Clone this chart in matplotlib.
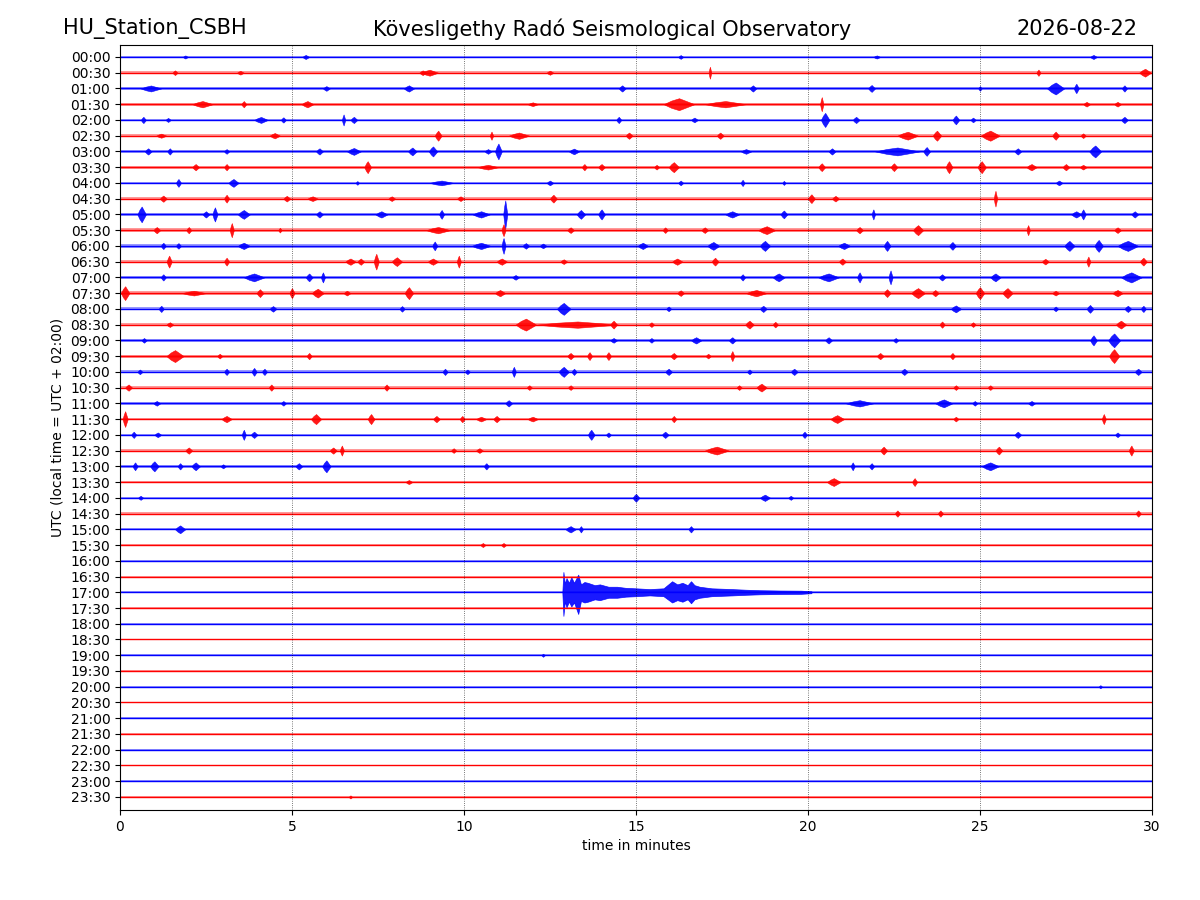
import matplotlib.pyplot as plt
import numpy as np

# rows of the helicorder: one trace per half hour
row_labels = ["%02d:%02d" % (h, m) for h in range(24) for m in (0, 30)]

# background noise half-width of each trace (row spacing = 1)
noise_level = [
    0.07, 0.09, 0.10, 0.09, 0.09, 0.10, 0.11, 0.10,
    0.08, 0.10, 0.11, 0.11, 0.12, 0.11, 0.11, 0.11,
    0.09, 0.09, 0.08, 0.09, 0.09, 0.08, 0.08, 0.09,
    0.08, 0.08, 0.09, 0.07, 0.07, 0.07, 0.07, 0.06,
    0.055, 0.055, 0.055, 0.055, 0.055, 0.055, 0.055, 0.055,
    0.055, 0.055, 0.055, 0.055, 0.055, 0.055, 0.055, 0.055,
]

# small local events: (row, minute, half amplitude, duration in minutes)
events = [
    (0, 5.4, 0.13, 0.2), (0, 28.3, 0.13, 0.2), (0, 1.9, 0.1, 0.15), (0, 16.3, 0.12, 0.15), (0, 22.0, 0.1, 0.2),
    (1, 1.6, 0.15, 0.15), (1, 9.0, 0.19, 0.5), (1, 8.8, 0.15, 0.2), (1, 17.15, 0.38, 0.08), (1, 26.7, 0.2, 0.12),
    (1, 29.8, 0.25, 0.35), (1, 12.5, 0.13, 0.2), (1, 3.5, 0.12, 0.2),
    (2, 0.9, 0.19, 0.6), (2, 8.4, 0.2, 0.3), (2, 14.6, 0.2, 0.2), (2, 18.4, 0.2, 0.2), (2, 21.85, 0.22, 0.2),
    (2, 25.0, 0.15, 0.1), (2, 27.2, 0.38, 0.5), (2, 27.8, 0.3, 0.15), (2, 29.2, 0.2, 0.15), (2, 6.0, 0.15, 0.2),
    (3, 2.4, 0.2, 0.6), (3, 3.6, 0.2, 0.15), (3, 5.45, 0.2, 0.35), (3, 16.25, 0.38, 0.9), (3, 17.6, 0.2, 1.2),
    (3, 20.4, 0.45, 0.1), (3, 28.1, 0.15, 0.2), (3, 29.0, 0.15, 0.2), (3, 12.0, 0.12, 0.3),
    (4, 0.68, 0.2, 0.15), (4, 4.1, 0.19, 0.4), (4, 4.75, 0.17, 0.15), (4, 6.5, 0.35, 0.1), (4, 6.8, 0.2, 0.2),
    (4, 14.5, 0.2, 0.15), (4, 20.5, 0.45, 0.25), (4, 21.4, 0.2, 0.2), (4, 24.3, 0.28, 0.2), (4, 24.8, 0.15, 0.15),
    (4, 29.2, 0.2, 0.2), (4, 1.4, 0.13, 0.15), (4, 16.7, 0.15, 0.2),
    (5, 9.25, 0.32, 0.2), (5, 10.8, 0.26, 0.1), (5, 11.6, 0.2, 0.6), (5, 14.8, 0.2, 0.2), (5, 4.5, 0.17, 0.3),
    (5, 1.2, 0.13, 0.3), (5, 17.45, 0.2, 0.2), (5, 22.9, 0.25, 0.6), (5, 23.75, 0.32, 0.25), (5, 25.3, 0.32, 0.55),
    (5, 27.2, 0.26, 0.2), (5, 28.0, 0.15, 0.15),
    (6, 0.82, 0.2, 0.2), (6, 1.45, 0.2, 0.15), (6, 3.1, 0.15, 0.15), (6, 5.8, 0.2, 0.2), (6, 6.8, 0.22, 0.4),
    (6, 8.5, 0.25, 0.25), (6, 9.1, 0.32, 0.25), (6, 10.7, 0.15, 0.2), (6, 11.0, 0.5, 0.2), (6, 13.2, 0.18, 0.3),
    (6, 20.7, 0.2, 0.2), (6, 22.6, 0.25, 1.3), (6, 23.45, 0.28, 0.2), (6, 26.1, 0.2, 0.2), (6, 28.35, 0.38, 0.35),
    (6, 18.2, 0.15, 0.3),
    (7, 2.2, 0.2, 0.2), (7, 3.1, 0.2, 0.15), (7, 7.2, 0.38, 0.2), (7, 10.7, 0.15, 0.6), (7, 13.5, 0.2, 0.15),
    (7, 14.0, 0.2, 0.2), (7, 16.1, 0.32, 0.3), (7, 15.6, 0.15, 0.15), (7, 20.4, 0.25, 0.2), (7, 22.5, 0.25, 0.2),
    (7, 24.1, 0.38, 0.2), (7, 25.05, 0.38, 0.25), (7, 26.5, 0.2, 0.3), (7, 27.5, 0.2, 0.2), (7, 28.0, 0.15, 0.2),
    (8, 1.7, 0.25, 0.15), (8, 3.3, 0.25, 0.3), (8, 9.35, 0.15, 0.7), (8, 6.9, 0.12, 0.1), (8, 12.5, 0.15, 0.2),
    (8, 16.3, 0.15, 0.15), (8, 18.1, 0.2, 0.12), (8, 19.3, 0.13, 0.1), (8, 27.3, 0.15, 0.2),
    (9, 1.26, 0.2, 0.2), (9, 3.1, 0.25, 0.15), (9, 4.85, 0.18, 0.2), (9, 5.6, 0.15, 0.3), (9, 12.6, 0.25, 0.2),
    (9, 20.1, 0.28, 0.2), (9, 20.8, 0.18, 0.2), (9, 25.45, 0.5, 0.1), (9, 9.9, 0.15, 0.2), (9, 7.9, 0.15, 0.2),
    (10, 0.63, 0.5, 0.25), (10, 2.76, 0.45, 0.15), (10, 2.5, 0.2, 0.2), (10, 3.6, 0.28, 0.35), (10, 5.8, 0.2, 0.2),
    (10, 7.6, 0.2, 0.35), (10, 9.35, 0.28, 0.15), (10, 10.5, 0.2, 0.5), (10, 11.2, 0.89, 0.12), (10, 13.4, 0.28, 0.25),
    (10, 14.0, 0.32, 0.2), (10, 17.8, 0.2, 0.4), (10, 19.3, 0.25, 0.2), (10, 21.9, 0.32, 0.1), (10, 27.8, 0.2, 0.3),
    (10, 28.0, 0.32, 0.15), (10, 29.5, 0.2, 0.2),
    (11, 1.07, 0.2, 0.2), (11, 2.0, 0.2, 0.15), (11, 3.25, 0.45, 0.12), (11, 4.65, 0.15, 0.1), (11, 9.25, 0.2, 0.7),
    (11, 11.15, 0.38, 0.12), (11, 13.1, 0.18, 0.2), (11, 15.85, 0.18, 0.15), (11, 17.0, 0.18, 0.2), (11, 18.8, 0.25, 0.5),
    (11, 23.2, 0.32, 0.3), (11, 26.4, 0.32, 0.1), (11, 29.0, 0.18, 0.2), (11, 21.5, 0.2, 0.2),
    (12, 1.26, 0.2, 0.15), (12, 1.7, 0.18, 0.15), (12, 3.6, 0.2, 0.35), (12, 9.15, 0.28, 0.15), (12, 10.5, 0.2, 0.55),
    (12, 11.15, 0.5, 0.12), (12, 11.8, 0.18, 0.2), (12, 12.3, 0.15, 0.2), (12, 15.2, 0.2, 0.3), (12, 17.25, 0.25, 0.35),
    (12, 18.75, 0.32, 0.3), (12, 21.05, 0.2, 0.35), (12, 22.3, 0.32, 0.2), (12, 24.2, 0.25, 0.2), (12, 27.6, 0.32, 0.3),
    (12, 28.45, 0.38, 0.25), (12, 29.3, 0.32, 0.6),
    (13, 1.43, 0.38, 0.15), (13, 3.1, 0.25, 0.15), (13, 6.7, 0.2, 0.3), (13, 7.45, 0.5, 0.15), (13, 7.0, 0.2, 0.2),
    (13, 8.05, 0.28, 0.3), (13, 9.1, 0.2, 0.3), (13, 9.85, 0.38, 0.12), (13, 11.1, 0.2, 0.3), (13, 12.9, 0.15, 0.2),
    (13, 16.2, 0.2, 0.3), (13, 17.3, 0.25, 0.2), (13, 21.0, 0.2, 0.2), (13, 26.9, 0.18, 0.2), (13, 28.15, 0.32, 0.12),
    (13, 29.75, 0.25, 0.2),
    (14, 1.26, 0.2, 0.15), (14, 3.9, 0.25, 0.6), (14, 5.5, 0.25, 0.2), (14, 5.9, 0.32, 0.12), (14, 11.5, 0.15, 0.2),
    (14, 18.1, 0.2, 0.15), (14, 19.15, 0.25, 0.35), (14, 20.6, 0.25, 0.6), (14, 21.5, 0.32, 0.15), (14, 22.4, 0.44, 0.12),
    (14, 23.9, 0.2, 0.2), (14, 25.45, 0.25, 0.3), (14, 29.4, 0.32, 0.6),
    (15, 0.15, 0.44, 0.25), (15, 2.15, 0.15, 0.7), (15, 4.07, 0.25, 0.2), (15, 5.0, 0.32, 0.15), (15, 5.75, 0.28, 0.35),
    (15, 6.6, 0.15, 0.2), (15, 8.4, 0.38, 0.25), (15, 11.05, 0.2, 0.3), (15, 16.3, 0.18, 0.2), (15, 18.5, 0.2, 0.6),
    (15, 22.3, 0.25, 0.2), (15, 23.2, 0.32, 0.4), (15, 23.7, 0.2, 0.2), (15, 25.0, 0.38, 0.25), (15, 25.8, 0.32, 0.3),
    (15, 29.0, 0.2, 0.3), (15, 27.2, 0.15, 0.2),
    (16, 1.2, 0.2, 0.15), (16, 4.45, 0.18, 0.2), (16, 8.2, 0.18, 0.15), (16, 12.9, 0.38, 0.4), (16, 15.95, 0.15, 0.15),
    (16, 18.7, 0.2, 0.2), (16, 24.3, 0.22, 0.3), (16, 27.2, 0.15, 0.15), (16, 28.2, 0.25, 0.2), (16, 29.3, 0.2, 0.2),
    (16, 29.75, 0.2, 0.15),
    (17, 1.45, 0.15, 0.2), (17, 11.8, 0.38, 0.6), (17, 13.3, 0.2, 2.4), (17, 14.35, 0.25, 0.2), (17, 15.45, 0.15, 0.15),
    (17, 18.3, 0.25, 0.25), (17, 19.05, 0.18, 0.15), (17, 23.9, 0.2, 0.15), (17, 24.8, 0.15, 0.15), (17, 29.1, 0.25, 0.3),
    (18, 0.7, 0.15, 0.15), (18, 14.35, 0.15, 0.2), (18, 15.45, 0.15, 0.15), (18, 16.75, 0.2, 0.3), (18, 17.8, 0.2, 0.2),
    (18, 20.6, 0.2, 0.2), (18, 22.55, 0.15, 0.15), (18, 28.3, 0.32, 0.2), (18, 28.9, 0.44, 0.35),
    (19, 1.6, 0.38, 0.5), (19, 2.9, 0.15, 0.15), (19, 5.5, 0.2, 0.15), (19, 13.1, 0.2, 0.2), (19, 13.65, 0.25, 0.15),
    (19, 14.2, 0.25, 0.15), (19, 16.1, 0.2, 0.2), (19, 17.1, 0.15, 0.15), (19, 17.8, 0.32, 0.12), (19, 22.1, 0.2, 0.2),
    (19, 24.2, 0.2, 0.15), (19, 28.9, 0.44, 0.3),
    (20, 0.58, 0.15, 0.15), (20, 3.1, 0.2, 0.15), (20, 3.9, 0.25, 0.15), (20, 4.2, 0.2, 0.15), (20, 9.45, 0.2, 0.15),
    (20, 10.1, 0.15, 0.15), (20, 11.45, 0.32, 0.12), (20, 12.9, 0.32, 0.3), (20, 13.2, 0.2, 0.15), (20, 15.95, 0.2, 0.2),
    (20, 18.3, 0.15, 0.15), (20, 19.6, 0.2, 0.2), (20, 22.8, 0.2, 0.2), (20, 29.6, 0.2, 0.2),
    (21, 0.25, 0.2, 0.2), (21, 4.4, 0.2, 0.15), (21, 7.75, 0.2, 0.15), (21, 11.9, 0.15, 0.15), (21, 13.1, 0.15, 0.15),
    (21, 18.0, 0.15, 0.15), (21, 18.65, 0.25, 0.3), (21, 24.3, 0.15, 0.15), (21, 25.3, 0.15, 0.15),
    (22, 1.07, 0.15, 0.2), (22, 4.75, 0.15, 0.15), (22, 11.3, 0.2, 0.2), (22, 21.5, 0.2, 0.8), (22, 23.95, 0.25, 0.5),
    (22, 24.85, 0.15, 0.15), (22, 26.5, 0.15, 0.2),
    (23, 0.15, 0.5, 0.15), (23, 3.1, 0.2, 0.3), (23, 5.7, 0.32, 0.3), (23, 7.3, 0.32, 0.2), (23, 9.2, 0.2, 0.2),
    (23, 9.95, 0.2, 0.15), (23, 10.5, 0.15, 0.3), (23, 10.95, 0.2, 0.2), (23, 12.0, 0.15, 0.3), (23, 16.1, 0.2, 0.15),
    (23, 20.85, 0.25, 0.4), (23, 24.3, 0.15, 0.15), (23, 28.6, 0.32, 0.12),
    (24, 0.4, 0.2, 0.15), (24, 1.1, 0.15, 0.2), (24, 3.6, 0.32, 0.12), (24, 3.9, 0.2, 0.2), (24, 13.7, 0.32, 0.2),
    (24, 14.2, 0.15, 0.15), (24, 15.85, 0.2, 0.2), (24, 19.9, 0.2, 0.15), (24, 26.1, 0.2, 0.2), (24, 29.0, 0.15, 0.15),
    (25, 2.0, 0.2, 0.2), (25, 6.2, 0.2, 0.2), (25, 6.45, 0.32, 0.12), (25, 9.7, 0.15, 0.15), (25, 10.45, 0.15, 0.2),
    (25, 17.35, 0.25, 0.7), (25, 22.2, 0.25, 0.2), (25, 25.55, 0.25, 0.2), (25, 29.4, 0.32, 0.15),
    (26, 0.44, 0.25, 0.15), (26, 1.0, 0.32, 0.25), (26, 1.75, 0.2, 0.15), (26, 2.2, 0.25, 0.25), (26, 3.0, 0.13, 0.15),
    (26, 5.2, 0.2, 0.2), (26, 6.0, 0.38, 0.25), (26, 10.65, 0.2, 0.15), (26, 21.3, 0.25, 0.12), (26, 21.85, 0.2, 0.15),
    (26, 25.3, 0.25, 0.5),
    (27, 8.4, 0.13, 0.2), (27, 20.75, 0.25, 0.4), (27, 23.1, 0.25, 0.15),
    (28, 0.6, 0.13, 0.15), (28, 15.0, 0.25, 0.2), (28, 18.75, 0.2, 0.3), (28, 19.5, 0.13, 0.15),
    (29, 22.6, 0.2, 0.15), (29, 23.85, 0.2, 0.15), (29, 29.6, 0.2, 0.15),
    (30, 1.75, 0.25, 0.3), (30, 13.1, 0.2, 0.3), (30, 13.4, 0.2, 0.12), (30, 16.6, 0.2, 0.15),
    (31, 10.55, 0.13, 0.15), (31, 11.15, 0.13, 0.15),
    (38, 12.3, 0.1, 0.1), (40, 28.5, 0.1, 0.1), (47, 6.7, 0.1, 0.1),
]

# the large event on the 17:00 trace: envelope
quake_row = 34
quake_min = [12.86, 12.89, 12.93, 12.98, 13.05, 13.12, 13.2, 13.32, 13.4, 13.5, 13.6, 13.8, 13.95,
             14.2, 14.45, 14.7, 15.0, 15.4, 15.8, 16.05, 16.2, 16.35, 16.5, 16.6, 16.7, 16.85,
             17.2, 17.8, 18.2, 18.6, 19.2, 19.8, 20.1]
quake_up = [0.06, 1.29, 0.55, 0.9, 0.6, 0.95, 0.6, 1.12, 0.5, 0.65, 0.6, 0.45, 0.5,
            0.35, 0.35, 0.28, 0.25, 0.2, 0.25, 0.7, 0.5, 0.6, 0.45, 0.7, 0.45, 0.35,
            0.25, 0.2, 0.16, 0.13, 0.11, 0.1, 0.06]
quake_down = [0.06, 1.5, 0.6, 0.95, 0.6, 0.9, 0.65, 1.38, 0.55, 0.65, 0.6, 0.45, 0.5,
              0.35, 0.35, 0.28, 0.25, 0.2, 0.25, 0.65, 0.5, 0.6, 0.45, 0.7, 0.45, 0.35,
              0.25, 0.2, 0.16, 0.13, 0.11, 0.1, 0.06]

trace_colors = ["#0000ff", "#ff0000"]

fig = plt.figure(figsize=(12, 9), dpi=100)
ax = fig.add_axes([0.1, 0.1, 0.86, 0.85])

# each trace: light noise band plus a solid centre line
for i, lvl in enumerate(noise_level):
    c = trace_colors[i % 2]
    ax.fill_between([0, 30], [i - lvl] * 2, [i + lvl] * 2, color=c, lw=0, alpha=0.4)
    ax.plot([0, 30], [i, i], color=c, lw=1.0)

for row, t, amp, dur in events:
    c = trace_colors[row % 2]
    xs = [t - dur / 2, t - dur / 4, t, t + dur / 4, t + dur / 2]
    h = [0, amp * 0.6, amp, amp * 0.5, 0]
    ax.fill_between(xs, [row - v for v in h], [row + v for v in h],
                    color=c, lw=0.4, edgecolor=c, alpha=0.9)

qm = np.array(quake_min)
ax.fill_between(qm, quake_row - np.array(quake_up), quake_row + np.array(quake_down),
                color=trace_colors[quake_row % 2], lw=0.5, alpha=0.9)

for x in [5, 10, 15, 20, 25]:
    ax.axvline(x, color="black", linestyle=":", linewidth=0.6, alpha=0.7)

ax.set_xlim(0, 30)
ax.set_ylim(47.83, -0.76)
ax.set_xticks([0, 5, 10, 15, 20, 25, 30])
ax.set_yticks(range(len(row_labels)))
ax.set_yticklabels(row_labels)
ax.set_xlabel("time in minutes")
ax.set_ylabel("UTC (local time = UTC + 02:00)")

fig.text(0.0525, 0.968, "HU_Station_CSBH", fontsize=15, ha="left", va="center")
fig.text(0.51, 0.968, "Kövesligethy Radó Seismological Observatory", fontsize=15, ha="center", va="center")
fig.text(0.9475, 0.968, "2026-08-22", fontsize=15, ha="right", va="center")

fig.savefig("out.png", dpi=100)
plt.close(fig)
